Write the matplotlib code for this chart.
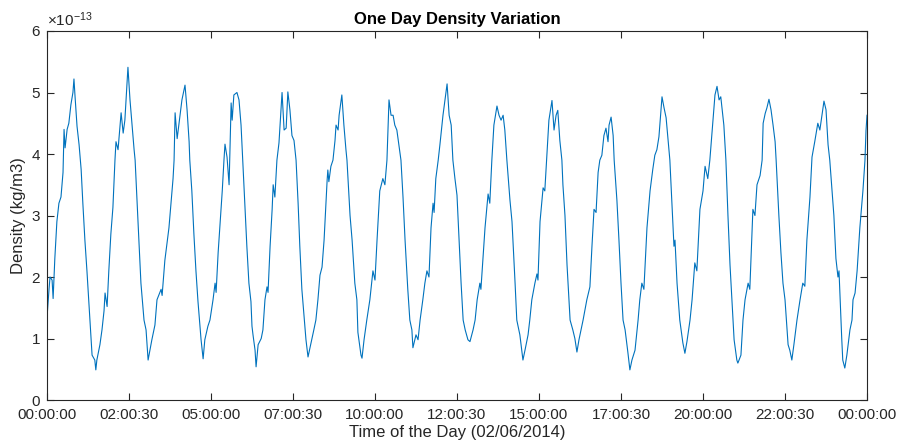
import matplotlib
matplotlib.use("Agg")
import matplotlib.pyplot as plt
import numpy as np

# 字型設定（近似 MATLAB 的 Helvetica）
plt.rcParams['font.family'] = ['Liberation Sans', 'DejaVu Sans']
plt.rcParams['mathtext.fontset'] = 'custom'
plt.rcParams['mathtext.rm'] = 'Liberation Sans'
plt.rcParams['mathtext.default'] = 'regular'

# 時間 (小時) 與密度 (x 1e-13 kg/m3)
t_hours = [
    0.00, 0.06, 0.09, 0.15, 0.18, 0.23, 0.29, 0.35, 0.41, 0.47, 0.50, 0.53, 0.59, 0.64, 0.70, 0.76,
    0.79, 0.82, 0.88, 0.94, 1.00, 1.05, 1.11, 1.17, 1.23, 1.26, 1.32, 1.40, 1.43, 1.46, 1.55, 1.61,
    1.67, 1.70, 1.76, 1.81, 1.87, 1.93, 1.99, 2.02, 2.08, 2.17, 2.23, 2.28, 2.37, 2.43, 2.49, 2.55,
    2.58, 2.63, 2.69, 2.75, 2.81, 2.84, 2.90, 2.96, 3.07, 3.16, 3.22, 3.34, 3.37, 3.45, 3.57, 3.63,
    3.69, 3.72, 3.75, 3.81, 3.86, 3.95, 4.04, 4.10, 4.16, 4.18, 4.24, 4.30, 4.36, 4.42, 4.45, 4.51,
    4.57, 4.62, 4.71, 4.77, 4.86, 4.92, 4.95, 5.01, 5.07, 5.13, 5.18, 5.21, 5.27, 5.33, 5.39, 5.42,
    5.47, 5.56, 5.62, 5.68, 5.73, 5.79, 5.85, 5.91, 5.97, 6.00, 6.03, 6.09, 6.12, 6.18, 6.27, 6.32,
    6.38, 6.44, 6.47, 6.53, 6.59, 6.62, 6.67, 6.73, 6.79, 6.88, 6.94, 7.00, 7.05, 7.11, 7.17, 7.23,
    7.29, 7.35, 7.40, 7.46, 7.52, 7.58, 7.64, 7.75, 7.81, 7.87, 7.93, 7.99, 8.05, 8.11, 8.20, 8.22,
    8.25, 8.31, 8.37, 8.43, 8.46, 8.52, 8.55, 8.63, 8.69, 8.75, 8.78, 8.87, 8.93, 9.01, 9.07, 9.10,
    9.19, 9.22, 9.28, 9.36, 9.45, 9.54, 9.60, 9.66, 9.74, 9.83, 9.89, 9.95, 10.01, 10.07, 10.13, 10.18,
    10.24, 10.30, 10.36, 10.42, 10.48, 10.56, 10.62, 10.68, 10.71, 10.80, 10.86, 10.92, 11.00, 11.06, 11.12, 11.18,
    11.24, 11.30, 11.33, 11.38, 11.45, 11.50, 11.59, 11.65, 11.71, 11.77, 11.83, 11.88, 11.94, 12.00, 12.06, 12.12,
    12.18, 12.24, 12.32, 12.38, 12.47, 12.53, 12.59, 12.67, 12.70, 12.76, 12.82, 12.91, 12.96, 13.02, 13.08, 13.17,
    13.23, 13.29, 13.35, 13.40, 13.46, 13.55, 13.61, 13.70, 13.75, 13.84, 13.93, 13.99, 14.08, 14.13, 14.19, 14.28,
    14.34, 14.37, 14.43, 14.52, 14.57, 14.63, 14.69, 14.78, 14.84, 14.90, 14.95, 15.01, 15.07, 15.10, 15.16, 15.22,
    15.31, 15.39, 15.45, 15.51, 15.57, 15.69, 15.80, 15.89, 15.95, 16.01, 16.07, 16.13, 16.18, 16.24, 16.30, 16.36,
    16.42, 16.45, 16.51, 16.57, 16.60, 16.68, 16.74, 16.80, 16.86, 16.92, 17.00, 17.06, 17.12, 17.21, 17.30, 17.35,
    17.41, 17.47, 17.56, 17.65, 17.73, 17.79, 17.85, 17.91, 18.00, 18.06, 18.12, 18.18, 18.23, 18.29, 18.35, 18.38,
    18.44, 18.52, 18.61, 18.67, 18.73, 18.82, 18.88, 18.96, 19.02, 19.11, 19.20, 19.26, 19.34, 19.40, 19.49, 19.55,
    19.61, 19.67, 19.72, 19.81, 19.87, 19.93, 19.99, 20.08, 20.11, 20.19, 20.22, 20.31, 20.37, 20.43, 20.52, 20.57,
    20.66, 20.72, 20.78, 20.87, 20.93, 20.96, 21.02, 21.07, 21.13, 21.19, 21.25, 21.31, 21.34, 21.42, 21.48, 21.54,
    21.60, 21.69, 21.74, 21.80, 21.86, 21.95, 22.04, 22.12, 22.18, 22.24, 22.33, 22.39, 22.47, 22.56, 22.62, 22.68,
    22.74, 22.80, 22.86, 22.91, 23.03, 23.09, 23.15, 23.18, 23.26, 23.29, 23.35, 23.41, 23.50, 23.56, 23.59, 23.65,
    23.71, 23.79, 23.88, 23.94, 23.97, 24.00,
]
density = [
    1.33, 1.80, 2.00, 1.95, 1.65, 2.30, 2.90, 3.20, 3.30, 3.70, 4.40, 4.10, 4.40, 4.50, 4.80, 5.00,
    5.22, 4.95, 4.45, 4.15, 3.75, 3.20, 2.60, 2.10, 1.55, 1.30, 0.73, 0.65, 0.49, 0.65, 0.90, 1.14,
    1.45, 1.74, 1.52, 2.10, 2.70, 3.13, 3.90, 4.20, 4.07, 4.67, 4.34, 4.55, 5.41, 4.88, 4.47, 4.07,
    3.90, 3.30, 2.60, 1.90, 1.50, 1.30, 1.14, 0.65, 0.98, 1.22, 1.63, 1.80, 1.70, 2.27, 2.80, 3.20,
    3.60, 3.90, 4.67, 4.25, 4.47, 4.88, 5.12, 4.72, 4.20, 3.90, 3.40, 2.70, 2.10, 1.60, 1.40, 0.98,
    0.67, 0.98, 1.20, 1.30, 1.63, 1.90, 1.75, 2.40, 2.90, 3.40, 3.90, 4.16, 3.95, 3.50, 4.83, 4.55,
    4.96, 5.00, 4.88, 4.47, 3.90, 3.20, 2.50, 1.90, 1.60, 1.20, 1.06, 0.81, 0.54, 0.90, 1.00, 1.14,
    1.63, 1.84, 1.75, 2.50, 3.10, 3.50, 3.30, 3.90, 4.18, 5.00, 4.39, 4.42, 5.01, 4.72, 4.30, 4.22,
    3.90, 3.20, 2.50, 1.80, 1.40, 0.98, 0.70, 0.98, 1.14, 1.30, 1.63, 2.03, 2.16, 2.60, 3.58, 3.74,
    3.55, 3.80, 3.90, 4.22, 4.47, 4.39, 4.63, 4.96, 4.47, 4.07, 3.90, 3.00, 2.60, 1.90, 1.63, 1.10,
    0.73, 0.68, 0.98, 1.30, 1.63, 2.10, 1.95, 2.60, 3.40, 3.60, 3.50, 3.90, 4.88, 4.63, 4.63, 4.47,
    4.39, 4.15, 3.90, 3.30, 2.60, 1.80, 1.30, 1.14, 0.85, 1.06, 0.98, 1.30, 1.63, 1.90, 2.10, 2.00,
    2.80, 3.20, 3.05, 3.60, 3.90, 4.15, 4.63, 4.88, 5.14, 4.63, 4.47, 3.90, 3.60, 3.33, 2.60, 1.90,
    1.30, 1.14, 0.98, 0.95, 1.14, 1.30, 1.63, 1.90, 1.80, 2.30, 2.80, 3.35, 3.20, 3.90, 4.47, 4.78,
    4.63, 4.55, 4.63, 4.39, 3.90, 3.25, 2.90, 1.90, 1.30, 1.06, 0.65, 0.81, 1.06, 1.30, 1.63, 1.90,
    2.05, 1.95, 2.90, 3.45, 3.40, 3.98, 4.55, 4.87, 4.39, 4.63, 4.71, 4.22, 3.90, 3.50, 3.00, 2.20,
    1.30, 1.14, 1.00, 0.78, 0.98, 1.30, 1.63, 1.84, 2.50, 3.10, 3.05, 3.70, 3.90, 3.98, 4.30, 4.42,
    4.20, 4.47, 4.60, 4.30, 3.90, 3.25, 2.60, 1.90, 1.30, 1.14, 0.78, 0.49, 0.65, 0.81, 1.30, 1.63,
    1.90, 1.80, 2.80, 3.40, 3.75, 3.98, 4.07, 4.28, 4.93, 4.75, 4.59, 4.22, 3.90, 3.20, 2.50, 2.60,
    1.90, 1.30, 0.93, 0.76, 0.95, 1.30, 1.63, 2.23, 2.10, 3.10, 3.40, 3.80, 3.60, 3.90, 4.55, 4.96,
    5.10, 4.88, 4.93, 4.47, 3.90, 3.00, 2.20, 1.30, 0.98, 0.65, 0.60, 0.73, 1.30, 1.63, 1.90, 1.80,
    3.10, 3.00, 3.50, 3.65, 3.90, 4.50, 4.66, 4.75, 4.89, 4.72, 4.47, 4.20, 3.90, 3.00, 2.40, 1.90,
    1.63, 0.90, 0.81, 0.65, 0.90, 1.30, 1.63, 1.90, 1.85, 2.60, 3.30, 3.95, 4.20, 4.50, 4.39, 4.63,
    4.86, 4.72, 4.15, 3.90, 3.00, 2.30, 2.00, 2.10, 1.00, 0.65, 0.52, 0.73, 1.14, 1.30, 1.63, 1.74,
    2.10, 2.80, 3.40, 3.90, 4.38, 4.63,
]

# 刻度位置與標籤
tick_hours = [0, 2.4, 4.8, 7.2, 9.6, 12.0, 14.4, 16.8, 19.2, 21.6, 24.0]
tick_labels = ["00:00:00", "02:00:30", "05:00:00", "07:00:30", "10:00:00", "12:00:30",
               "15:00:00", "17:00:30", "20:00:00", "22:00:30", "00:00:00"]

fig = plt.figure(figsize=(8.98, 4.46), dpi=100)
ax = fig.add_axes([0.0523, 0.1031, 0.9132, 0.8274])

ax.plot(t_hours, density, color="#0072BD", linewidth=0.8)

ax.set_xlim(0, 24)
ax.set_ylim(0, 6)
ax.set_xticks(tick_hours)
ax.set_xticklabels(tick_labels)
ax.set_yticks(range(0, 7))

edge = "#262626"
for s in ax.spines.values():
    s.set_color(edge)
    s.set_linewidth(0.8)
ax.tick_params(direction="in", top=True, right=True, length=5, width=0.8,
               colors=edge, labelsize=11)
ax.tick_params(axis="x", pad=6)
ax.tick_params(axis="y", pad=5)

ax.set_title("One Day Density Variation", fontsize=12, fontweight="bold", pad=5)
ax.set_xlabel("Time of the Day (02/06/2014)", fontsize=12, color=edge, labelpad=2)
ax.set_ylabel("Density (kg/m3)", fontsize=12, color=edge, labelpad=4)
ax.text(0, 1.005, r"$\times10^{-13}$", transform=ax.transAxes, fontsize=11,
        color=edge, ha="left", va="bottom")

fig.savefig("out.png", dpi=100)
